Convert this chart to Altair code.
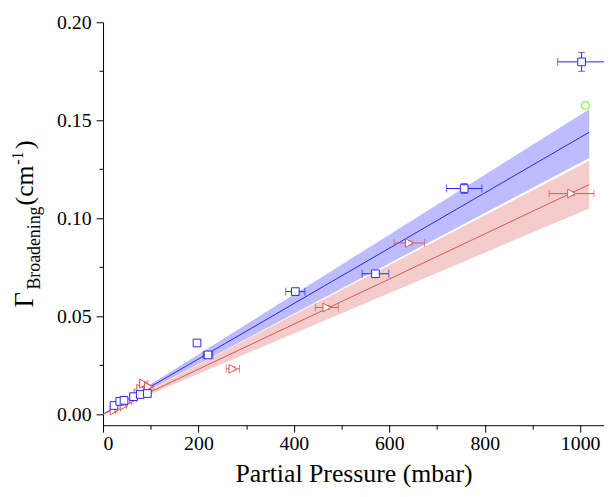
import altair as alt
import pandas as pd

# ---- data ----
blue_x = [23, 35, 44, 64, 78, 93, 197, 220, 403, 571, 757, 1003]
blue_y = [0.0045, 0.0066, 0.0071, 0.0090, 0.0101, 0.0106, 0.0364, 0.0303, 0.0626, 0.0717, 0.1152, 0.1798]
blue_xerr = [2, 3, 3, 4, 5, 6, 5, 10, 20, 28, 37, 50]
blue_yerr = [0.0006, 0.0006, 0.0006, 0.0007, 0.0007, 0.0008, 0.0012, 0.0012, 0.0015, 0.0015, 0.0025, 0.0048]

red_x = [23, 33, 44, 54, 64, 73, 79, 85, 95, 272, 469, 642, 982]
red_y = [0.0020, 0.0035, 0.0045, 0.0066, 0.0080, 0.0106, 0.0130, 0.0157, 0.0140, 0.0232, 0.0545, 0.0874, 0.1126]
red_xerr = [3, 4, 5, 5, 6, 7, 8, 9, 10, 14, 24, 32, 47]
red_yerr = [0.0008, 0.0008, 0.0008, 0.0008, 0.0009, 0.0009, 0.0010, 0.0010, 0.0010, 0.0010, 0.0010, 0.0010, 0.0010]

green_x = [1011]
green_y = [0.1576]
green_xerr = [0]
green_yerr = [0.0015]

fit_x = [0, 1019]
blue_fit = [0.0, 0.1439]
blue_lo = [0.0, 0.1308]
blue_hi = [0.0, 0.1556]
red_fit = [0.0, 0.1172]
red_lo = [0.0, 0.1050]
red_hi = [0.0, 0.1293]

x_all = [0, 100, 200, 300, 400, 500, 600, 700, 800, 900, 1000]
y_all = [0.0, 0.025, 0.05, 0.075, 0.1, 0.125, 0.15, 0.175, 0.2]

BLUE = "#2626ff"
BLUE_BAND = "#b0b0ff"
RED = "#e05555"
RED_BAND = "#f3c6c6"
GREEN = "#88ee44"
FONT = "Times New Roman, Liberation Serif, Times, serif"

xs = alt.Scale(domain=[0, 1050], nice=False, zero=False)
ys = alt.Scale(domain=[-0.00556, 0.2], nice=False, zero=False)

xaxis = alt.Axis(
    values=x_all,
    format="d",
    labelExpr="datum.value % 200 === 0 ? datum.label : ''",
    tickSize=alt.condition("datum.value % 200 === 0", alt.value(7), alt.value(4)),
    title="Partial Pressure (mbar)",
    titlePadding=7,
    labelPadding=2,
    grid=False,
)
yaxis = alt.Axis(
    values=y_all,
    format=".2f",
    labelExpr="round(datum.value * 1000) % 50 === 0 ? datum.label : ''",
    tickSize=alt.condition("round(datum.value * 1000) % 50 === 0", alt.value(7), alt.value(4)),
    title="",
    labelPadding=5,
    grid=False,
)


def X(f):
    return alt.X(f, type="quantitative", scale=xs, axis=xaxis)


def Y(f):
    return alt.Y(f, type="quantitative", scale=ys, axis=yaxis)


def mk(xv, yv, xe, ye):
    df = pd.DataFrame({"x": xv, "y": yv, "xe": xe, "ye": ye})
    df["xlo"] = df["x"] - df["xe"]
    df["xhi"] = df["x"] + df["xe"]
    df["ylo"] = df["y"] - df["ye"]
    df["yhi"] = df["y"] + df["ye"]
    return df


blue_df = mk(blue_x, blue_y, blue_xerr, blue_yerr)
red_df = mk(red_x, red_y, red_xerr, red_yerr)
green_df = mk(green_x, green_y, green_xerr, green_yerr)

fit_df = pd.DataFrame({"x": fit_x, "bf": blue_fit, "blo": blue_lo, "bhi": blue_hi,
                       "rf": red_fit, "rlo": red_lo, "rhi": red_hi})


def err_layers(df, color, with_x=True):
    layers = []
    if with_x:
        layers.append(alt.Chart(df).mark_rule(color=color, strokeWidth=1).encode(
            x=X("xlo"), x2="xhi", y=Y("y")))
        caps = pd.concat([
            pd.DataFrame({"cx": df["xlo"], "cy": df["y"]}),
            pd.DataFrame({"cx": df["xhi"], "cy": df["y"]}),
        ])
        layers.append(alt.Chart(caps).mark_tick(color=color, orient="vertical", size=8, thickness=1).encode(
            x=X("cx"), y=Y("cy")))
    layers.append(alt.Chart(df).mark_rule(color=color, strokeWidth=1).encode(
        x=X("x"), y=Y("ylo"), y2="yhi"))
    vcaps = pd.concat([
        pd.DataFrame({"cx": df["x"], "cy": df["ylo"]}),
        pd.DataFrame({"cx": df["x"], "cy": df["yhi"]}),
    ])
    layers.append(alt.Chart(vcaps).mark_tick(color=color, orient="horizontal", size=7, thickness=1).encode(
        x=X("cx"), y=Y("cy")))
    return layers


blue_band = alt.Chart(fit_df).mark_area(color=BLUE_BAND, opacity=0.85).encode(x=X("x"), y=Y("blo"), y2="bhi")
red_band = alt.Chart(fit_df).mark_area(color=RED_BAND, opacity=0.9).encode(x=X("x"), y=Y("rlo"), y2="rhi")
blue_line = alt.Chart(fit_df).mark_line(color=BLUE, strokeWidth=1).encode(x=X("x"), y=Y("bf"))
red_line = alt.Chart(fit_df).mark_line(color=RED, strokeWidth=1).encode(x=X("x"), y=Y("rf"))

red_pts = alt.Chart(red_df).mark_point(shape="triangle-right", size=80, filled=True, fill="white",
                                       stroke=RED, strokeWidth=1, opacity=1).encode(x=X("x"), y=Y("y"))
blue_pts = alt.Chart(blue_df).mark_point(shape="square", size=60, filled=True, fill="white",
                                         stroke=BLUE, strokeWidth=1, opacity=1).encode(x=X("x"), y=Y("y"))
green_pts = alt.Chart(green_df).mark_point(shape="circle", size=60, filled=True, fill="white",
                                           stroke=GREEN, strokeWidth=1.2, opacity=1).encode(x=X("x"), y=Y("y"))

# y-axis title pieces (Γ_Broadening (cm^-1))
one = pd.DataFrame({"t": [0]})


def title_piece(txt, px, py, size):
    return alt.Chart(one).mark_text(text=txt, angle=270, align="left", baseline="alphabetic",
                                    font=FONT, fontSize=size, color="black").encode(
        x=alt.value(px), y=alt.value(py))


title_layers = [
    title_piece("Γ", -71, 288, 27),
    title_piece("Broadening", -64, 270, 18),
    title_piece("(cm", -71, 185, 26),
    title_piece("-1", -81, 144, 16),
    title_piece(")", -71, 128, 26),
]

layers = [blue_band, red_band, blue_line, red_line]
layers += err_layers(red_df, RED)
layers += err_layers(blue_df, BLUE)
layers += err_layers(green_df, GREEN, with_x=False)
layers += [red_pts, blue_pts, green_pts]
layers += title_layers

chart = alt.layer(*layers).properties(
    width=506, height=407,
    autosize=alt.AutoSizeParams(type="none"),
    padding={"left": 96, "top": 12, "right": 0, "bottom": 60},
).configure_view(stroke=None).configure_axis(
    labelFont=FONT, labelFontSize=20, labelColor="black",
    titleFont=FONT, titleFontSize=26, titleFontWeight="normal", titleColor="black",
    domainColor="black", tickColor="black", domainWidth=1, tickWidth=1,
)

chart.save("out.html", embed_options={"renderer": "svg", "actions": False})
